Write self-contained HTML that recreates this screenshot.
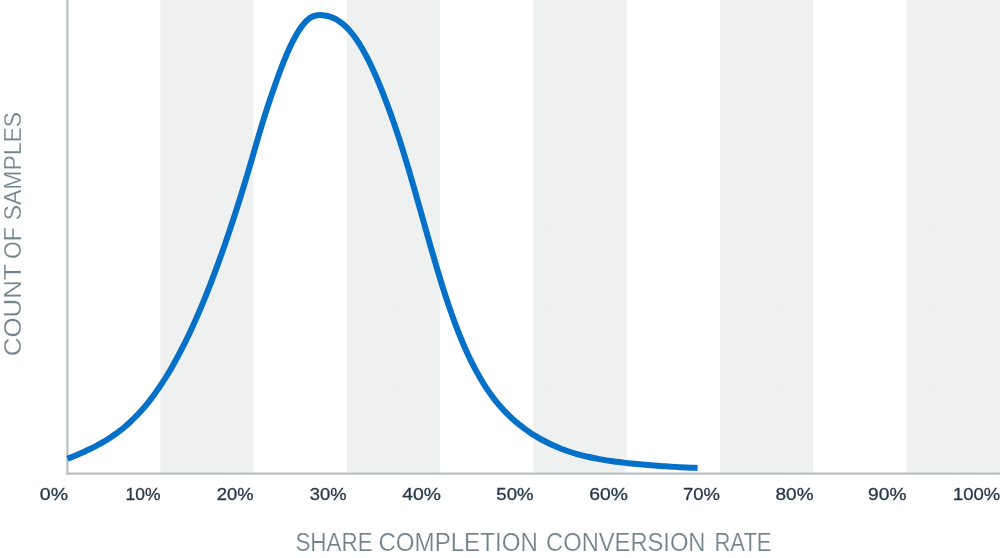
<!DOCTYPE html>
<html><head><meta charset="utf-8"><title>Chart</title>
<style>
html,body{margin:0;padding:0;background:#fff;}
body{width:1000px;height:558px;overflow:hidden;font-family:"Liberation Sans",sans-serif;}
svg{display:block;opacity:0.999;will-change:transform;}
text{font-family:"Liberation Sans",sans-serif;}
</style></head><body>
<svg width="1000" height="558" viewBox="0 0 1000 558">
<rect x="0" y="0" width="1000" height="558" fill="#ffffff"/>
<defs><pattern id="dots" width="77" height="79" patternUnits="userSpaceOnUse" fill="#e6e9ef"><rect x="41" y="19" width="1" height="1"/><rect x="50" y="6" width="1" height="1"/><rect x="9" y="68" width="1" height="1"/><rect x="12" y="46" width="1" height="1"/><rect x="74" y="7" width="1" height="1"/><rect x="64" y="27" width="1" height="1"/><rect x="4" y="11" width="1" height="1"/><rect x="55" y="53" width="1" height="1"/><rect x="8" y="30" width="1" height="1"/><rect x="11" y="70" width="1" height="1"/><rect x="54" y="7" width="1" height="1"/><rect x="72" y="15" width="1" height="1"/><rect x="28" y="74" width="1" height="1"/><rect x="7" y="73" width="1" height="1"/><rect x="74" y="50" width="1" height="1"/><rect x="6" y="28" width="1" height="1"/><rect x="5" y="71" width="1" height="1"/><rect x="17" y="37" width="1" height="1"/><rect x="53" y="18" width="1" height="1"/><rect x="69" y="15" width="1" height="1"/><rect x="73" y="39" width="1" height="1"/><rect x="71" y="23" width="1" height="1"/><rect x="13" y="74" width="1" height="1"/><rect x="73" y="24" width="1" height="1"/><rect x="47" y="12" width="1" height="1"/><rect x="70" y="8" width="1" height="1"/><rect x="72" y="7" width="1" height="1"/><rect x="26" y="63" width="1" height="1"/><rect x="68" y="54" width="1" height="1"/><rect x="40" y="59" width="1" height="1"/><rect x="74" y="58" width="1" height="1"/><rect x="46" y="38" width="1" height="1"/><rect x="31" y="23" width="1" height="1"/><rect x="31" y="10" width="1" height="1"/><rect x="73" y="38" width="1" height="1"/><rect x="67" y="63" width="1" height="1"/><rect x="43" y="57" width="1" height="1"/><rect x="36" y="77" width="1" height="1"/><rect x="9" y="15" width="1" height="1"/><rect x="65" y="53" width="1" height="1"/></pattern></defs>
<rect x="160.4" y="0" width="93.0" height="473" fill="#eff1f1"/>
<rect x="168.4" y="18" width="77.0" height="448" fill="url(#dots)"/>
<rect x="347.0" y="0" width="93.0" height="473" fill="#eff1f1"/>
<rect x="355.0" y="18" width="77.0" height="448" fill="url(#dots)"/>
<rect x="533.6" y="0" width="92.9" height="473" fill="#eff1f1"/>
<rect x="541.6" y="18" width="76.9" height="448" fill="url(#dots)"/>
<rect x="720.0" y="0" width="93.0" height="473" fill="#eff1f1"/>
<rect x="728.0" y="18" width="77.0" height="448" fill="url(#dots)"/>
<rect x="906.6" y="0" width="93.4" height="473" fill="#eff1f1"/>
<rect x="914.6" y="18" width="77.4" height="448" fill="url(#dots)"/>
<rect x="66.3" y="0" width="2.2" height="474.7" fill="#b8c0c4"/>
<rect x="66.3" y="472.5" width="933.7" height="2.2" fill="#b8c0c4"/>
<path d="M67.40 458.84 C69.33 458.05 71.25 457.26 73.18 456.46 C75.11 455.66 77.04 454.85 78.96 454.02 C80.89 453.19 82.82 452.34 84.74 451.46 C86.67 450.59 88.60 449.69 90.53 448.75 C92.45 447.81 94.38 446.84 96.31 445.83 C98.24 444.81 100.16 443.76 102.09 442.65 C104.02 441.54 105.94 440.38 107.87 439.17 C109.80 437.95 111.73 436.67 113.65 435.33 C115.58 433.99 117.51 432.58 119.43 431.10 C121.36 429.62 123.29 428.06 125.22 426.42 C127.14 424.78 129.07 423.05 131.00 421.24 C132.93 419.43 134.85 417.52 136.78 415.52 C138.71 413.52 140.63 411.42 142.56 409.21 C144.49 407.00 146.42 404.69 148.34 402.27 C150.27 399.85 152.20 397.33 154.12 394.69 C156.05 392.05 157.98 389.30 159.91 386.44 C161.83 383.58 163.76 380.60 165.69 377.51 C167.62 374.42 169.54 371.21 171.47 367.88 C173.40 364.56 175.32 361.11 177.25 357.54 C179.18 353.98 181.11 350.29 183.03 346.47 C184.96 342.66 186.89 338.73 188.81 334.67 C190.74 330.61 192.67 326.43 194.60 322.12 C196.52 317.82 198.45 313.39 200.38 308.84 C202.31 304.29 204.23 299.62 206.16 294.83 C208.09 290.04 210.01 285.13 211.94 280.09 C213.87 275.06 215.80 269.91 217.72 264.63 C219.65 259.36 221.58 253.96 223.50 248.45 C225.43 242.93 227.36 237.30 229.29 231.55 C231.21 225.80 233.14 219.94 235.07 213.97 C237.00 207.99 238.92 201.91 240.85 195.72 C242.78 189.52 244.70 183.22 246.63 176.81 C248.56 170.40 250.49 163.87 252.41 157.23 C254.34 150.58 256.27 143.83 258.19 137.22 C260.12 130.61 262.05 124.16 263.98 118.03 C265.90 111.90 267.83 106.03 269.76 100.32 C271.69 94.61 273.61 89.03 275.54 83.57 C277.47 78.10 279.39 72.79 281.32 67.74 C283.25 62.69 285.18 57.92 287.10 53.49 C289.03 49.05 290.96 44.94 292.88 41.16 C294.81 37.39 296.74 33.95 298.67 30.91 C300.59 27.86 302.52 25.21 304.45 23.01 C306.37 20.81 308.30 19.06 310.23 17.81 C312.16 16.56 314.08 15.84 316.01 15.47 C317.94 15.10 319.87 15.06 321.79 15.16 C323.72 15.26 325.65 15.53 327.57 15.99 C329.50 16.44 331.43 17.09 333.36 17.94 C335.28 18.80 337.21 19.87 339.14 21.17 C341.06 22.47 342.99 24.01 344.92 25.80 C346.85 27.59 348.77 29.62 350.70 31.91 C352.63 34.20 354.56 36.75 356.48 39.55 C358.41 42.35 360.34 45.40 362.26 48.72 C364.19 52.03 366.12 55.61 368.05 59.43 C369.97 63.25 371.90 67.30 373.83 71.57 C375.75 75.84 377.68 80.33 379.61 85.01 C381.54 89.68 383.46 94.55 385.39 99.59 C387.32 104.63 389.25 109.85 391.17 115.26 C393.10 120.67 395.03 126.26 396.95 132.04 C398.88 137.83 400.81 143.79 402.74 149.95 C404.66 156.11 406.59 162.47 408.52 168.96 C410.44 175.45 412.37 182.08 414.30 188.80 C416.23 195.52 418.15 202.32 420.08 209.15 C422.01 215.99 423.94 222.85 425.86 229.69 C427.79 236.53 429.72 243.34 431.64 250.06 C433.57 256.78 435.50 263.41 437.43 269.88 C439.35 276.34 441.28 282.66 443.21 288.74 C445.13 294.83 447.06 300.70 448.99 306.35 C450.92 311.99 452.84 317.41 454.77 322.61 C456.70 327.80 458.63 332.76 460.55 337.50 C462.48 342.23 464.41 346.72 466.33 351.00 C468.26 355.27 470.19 359.31 472.12 363.15 C474.04 366.99 475.97 370.62 477.90 374.06 C479.82 377.50 481.75 380.75 483.68 383.83 C485.61 386.90 487.53 389.81 489.46 392.55 C491.39 395.29 493.31 397.88 495.24 400.33 C497.17 402.77 499.10 405.08 501.02 407.26 C502.95 409.44 504.88 411.50 506.81 413.45 C508.73 415.40 510.66 417.24 512.59 418.99 C514.51 420.73 516.44 422.38 518.37 423.95 C520.30 425.52 522.22 427.01 524.15 428.43 C526.08 429.85 528.00 431.20 529.93 432.49 C531.86 433.77 533.79 435.00 535.71 436.16 C537.64 437.33 539.57 438.44 541.50 439.50 C543.42 440.56 545.35 441.57 547.28 442.53 C549.20 443.49 551.13 444.41 553.06 445.28 C554.99 446.14 556.91 446.97 558.84 447.75 C560.77 448.54 562.69 449.28 564.62 449.98 C566.55 450.69 568.48 451.35 570.40 451.98 C572.33 452.61 574.26 453.21 576.19 453.77 C578.11 454.33 580.04 454.86 581.97 455.36 C583.89 455.86 585.82 456.33 587.75 456.77 C589.68 457.22 591.60 457.63 593.53 458.02 C595.46 458.42 597.38 458.79 599.31 459.13 C601.24 459.48 603.17 459.81 605.09 460.12 C607.02 460.43 608.95 460.72 610.88 460.99 C612.80 461.27 614.73 461.53 616.66 461.78 C618.58 462.03 620.51 462.27 622.44 462.49 C624.37 462.72 626.29 462.94 628.22 463.15 C630.15 463.36 632.07 463.56 634.00 463.76 C635.93 463.96 637.86 464.14 639.78 464.32 C641.71 464.50 643.64 464.68 645.57 464.84 C647.49 465.01 649.42 465.17 651.35 465.32 C653.27 465.48 655.20 465.62 657.13 465.76 C659.06 465.91 660.98 466.04 662.91 466.17 C664.84 466.30 666.76 466.42 668.69 466.54 C670.62 466.66 672.55 466.77 674.47 466.88 C676.40 466.99 678.33 467.09 680.26 467.19 C682.18 467.29 684.11 467.39 686.04 467.48 C687.96 467.57 689.89 467.66 691.82 467.74 C693.75 467.82 695.67 467.90 697.60 467.98" fill="none" stroke="#0570c7" stroke-width="6" stroke-linecap="butt" stroke-linejoin="round"/>
<text x="39.80" y="500.3" font-size="17.4" fill="#273848" stroke="#273848" stroke-width="0.3" textLength="28.20" lengthAdjust="spacingAndGlyphs">0%</text>
<text x="125.55" y="500.3" font-size="17.4" fill="#273848" stroke="#273848" stroke-width="0.3" textLength="34.95" lengthAdjust="spacingAndGlyphs">10%</text>
<text x="216.80" y="500.3" font-size="17.4" fill="#273848" stroke="#273848" stroke-width="0.3" textLength="36.70" lengthAdjust="spacingAndGlyphs">20%</text>
<text x="309.80" y="500.3" font-size="17.4" fill="#273848" stroke="#273848" stroke-width="0.3" textLength="36.70" lengthAdjust="spacingAndGlyphs">30%</text>
<text x="402.30" y="500.3" font-size="17.4" fill="#273848" stroke="#273848" stroke-width="0.3" textLength="38.70" lengthAdjust="spacingAndGlyphs">40%</text>
<text x="496.30" y="500.3" font-size="17.4" fill="#273848" stroke="#273848" stroke-width="0.3" textLength="37.20" lengthAdjust="spacingAndGlyphs">50%</text>
<text x="589.30" y="500.3" font-size="17.4" fill="#273848" stroke="#273848" stroke-width="0.3" textLength="38.70" lengthAdjust="spacingAndGlyphs">60%</text>
<text x="683.05" y="500.3" font-size="17.4" fill="#273848" stroke="#273848" stroke-width="0.3" textLength="36.95" lengthAdjust="spacingAndGlyphs">70%</text>
<text x="775.55" y="500.3" font-size="17.4" fill="#273848" stroke="#273848" stroke-width="0.3" textLength="37.95" lengthAdjust="spacingAndGlyphs">80%</text>
<text x="868.05" y="500.3" font-size="17.4" fill="#273848" stroke="#273848" stroke-width="0.3" textLength="38.45" lengthAdjust="spacingAndGlyphs">90%</text>
<text x="953.05" y="500.3" font-size="17.4" fill="#273848" stroke="#273848" stroke-width="0.3" textLength="47.20" lengthAdjust="spacingAndGlyphs">100%</text>
<text x="295.40" y="551" font-size="25" fill="#72838b" stroke="#ffffff" stroke-width="0.22" textLength="77.40" lengthAdjust="spacingAndGlyphs">SHARE</text>
<text x="378.40" y="551" font-size="25" fill="#72838b" stroke="#ffffff" stroke-width="0.22" textLength="159.40" lengthAdjust="spacingAndGlyphs">COMPLETION</text>
<text x="546.10" y="551" font-size="25" fill="#72838b" stroke="#ffffff" stroke-width="0.22" textLength="159.40" lengthAdjust="spacingAndGlyphs">CONVERSION</text>
<text x="714.40" y="551" font-size="25" fill="#72838b" stroke="#ffffff" stroke-width="0.22" textLength="57.20" lengthAdjust="spacingAndGlyphs">RATE</text>
<text transform="translate(21.2,356.30) rotate(-90)" x="0" y="0" font-size="24.8" fill="#72838b" stroke="#ffffff" stroke-width="0.22" textLength="92.00" lengthAdjust="spacingAndGlyphs">COUNT</text>
<text transform="translate(21.2,259.00) rotate(-90)" x="0" y="0" font-size="24.8" fill="#72838b" stroke="#ffffff" stroke-width="0.22" textLength="31.60" lengthAdjust="spacingAndGlyphs">OF</text>
<text transform="translate(21.2,220.30) rotate(-90)" x="0" y="0" font-size="24.8" fill="#72838b" stroke="#ffffff" stroke-width="0.22" textLength="108.40" lengthAdjust="spacingAndGlyphs">SAMPLES</text>
</svg>
</body></html>
